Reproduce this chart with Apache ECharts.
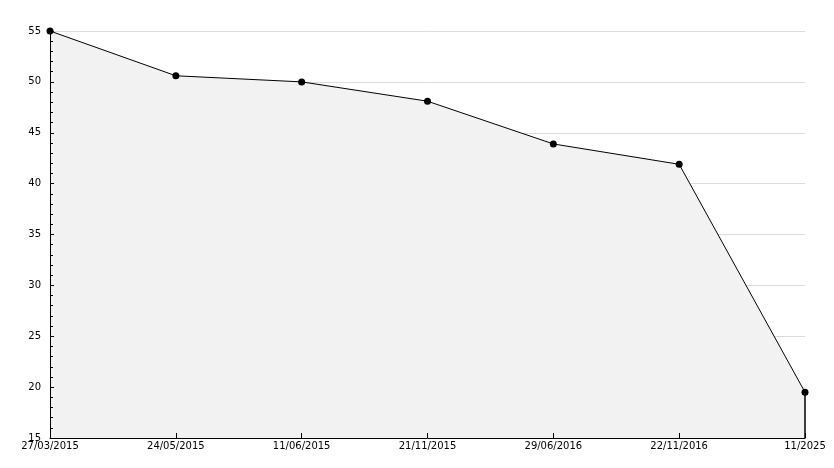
<!DOCTYPE html>
<html>
<head>
<meta charset="utf-8">
<script src="https://cdn.jsdelivr.net/npm/echarts@6/dist/echarts.min.js"></script>
<style>
  html, body { margin: 0; padding: 0; background: #fff; }
  #chart { width: 834px; height: 468px; }
</style>
</head>
<body>
<div id="chart"></div>
<script>
const dates = ['27/03/2015', '24/05/2015', '11/06/2015', '21/11/2015', '29/06/2016', '22/11/2016', '11/2025'];
const values = [55, 50.6, 50, 48.1, 43.9, 41.9, 19.5];
const yMin = 15;
const yMax = 55;

let myChart = echarts.init(document.getElementById('chart'), null, { renderer: 'canvas' });

const lastDate = dates[dates.length - 1];
const lastValue = values[values.length - 1];

let option = {
  backgroundColor: '#ffffff',
  animation: false,
  textStyle: { fontFamily: 'DejaVu Sans' },
  grid: { left: 50, right: 29, top: 31, bottom: 30 },
  xAxis: {
    type: 'category',
    boundaryGap: false,
    data: dates,
    z: 5,
    axisLine: { lineStyle: { color: '#000', width: 1 } },
    axisTick: { show: true, inside: true, length: 5, lineStyle: { color: '#000' } },
    axisLabel: { color: '#000', fontSize: 10, margin: 3 },
    splitLine: { show: false }
  },
  yAxis: [
    {
      // grid lines only, under the area
      type: 'value',
      min: yMin,
      max: yMax,
      interval: 5,
      z: 0,
      axisLine: { show: false },
      axisTick: { show: false },
      axisLabel: { show: false },
      splitLine: { show: true, lineStyle: { color: '#dcdcdc', width: 1 } }
    },
    {
      // axis line, ticks and labels on top
      type: 'value',
      min: yMin,
      max: yMax,
      interval: 5,
      position: 'left',
      z: 5,
      axisLine: { show: true, lineStyle: { color: '#000', width: 1 } },
      axisTick: { show: true, inside: true, length: 4, lineStyle: { color: '#000' } },
      minorTick: { show: true, splitNumber: 5, length: 3, lineStyle: { color: '#000' } },
      axisLabel: { color: '#000', fontSize: 10, margin: 9 },
      splitLine: { show: false }
    }
  ],
  series: [
    {
      type: 'line',
      data: values,
      symbol: 'circle',
      symbolSize: 7,
      itemStyle: { color: '#000' },
      lineStyle: { color: '#000', width: 1 },
      areaStyle: { color: '#f2f2f2', opacity: 1, origin: 'start' },
      markLine: {
        silent: true,
        symbol: ['none', 'none'],
        label: { show: false },
        lineStyle: { color: '#000', width: 1.5, type: 'solid' },
        data: [[{ coord: [lastDate, yMin] }, { coord: [lastDate, lastValue] }]]
      }
    }
  ]
};

myChart.setOption(option);
</script>
</body>
</html>
